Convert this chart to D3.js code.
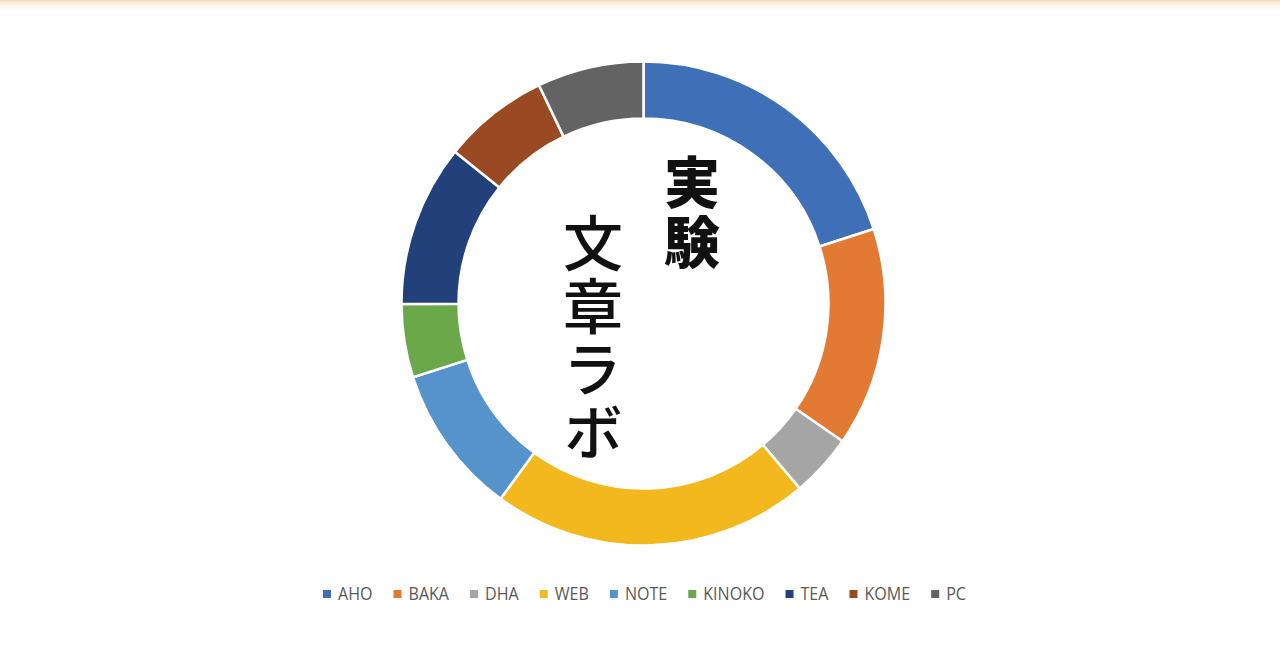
<!DOCTYPE html>
<html>
<head>
<meta charset="utf-8">
<script src="https://cdn.jsdelivr.net/npm/d3@7"></script>
<style>
  html, body { margin: 0; padding: 0; background: #fff; }
</style>
</head>
<body>
<div id="chart"></div>
<script>
// данні для кільця
const categories = ["AHO", "BAKA", "DHA", "WEB", "NOTE", "KINOKO", "TEA", "KOME", "PC"];
const values = [20, 14.6, 4.2, 21.2, 10, 4.9, 10.8, 7.1, 7.1];
const colorList = ["#3F6FB6", "#E27A33", "#A5A5A5", "#F2B81E", "#5693CB", "#6AA84A", "#22407A", "#9A4A22", "#636363"];
const titleLines = ["実験", "文章ラボ"];

const width = 1280;
const height = 670;
const cx = 643.5, cy = 303.5;
const outerR = 242;
const innerR = 185;

const svg = d3.select("#chart").append("svg")
    .attr("width", width)
    .attr("height", height)
    .style("display", "block")
    .style("background", "white");

// тонка смужка зверху
const grad = svg.append("defs").append("linearGradient")
    .attr("id", "topfade").attr("x1", 0).attr("y1", 0).attr("x2", 0).attr("y2", 1);
grad.append("stop").attr("offset", "0%").attr("stop-color", "#efd9b4");
grad.append("stop").attr("offset", "25%").attr("stop-color", "#f8eedc");
grad.append("stop").attr("offset", "100%").attr("stop-color", "#ffffff");
svg.append("rect")
    .attr("x", 0).attr("y", 0)
    .attr("width", width).attr("height", 10)
    .attr("fill", "url(#topfade)");

const color = d3.scaleOrdinal().domain(categories).range(colorList);

const pie = d3.pie().sort(null).value(d => d.value);
const arc = d3.arc().innerRadius(innerR).outerRadius(outerR);

const data = categories.map((c, i) => ({ name: c, value: values[i] }));

svg.append("g")
    .attr("transform", `translate(${cx},${cy})`)
    .selectAll("path")
    .data(pie(data))
    .join("path")
    .attr("d", arc)
    .attr("fill", d => color(d.data.name))
    .attr("stroke", "#fff")
    .attr("stroke-width", 2.5)
    .attr("stroke-linejoin", "round");

// вертикальний заголовок у центрі (writing-mode)
const title = svg.append("g")
    .style("font-family", "'Noto Sans CJK JP', sans-serif")
    .attr("fill", "#111");

title.append("text")
    .attr("x", 692)
    .attr("y", 154)
    .style("writing-mode", "vertical-rl")
    .style("font-size", "56px")
    .style("font-weight", "800")
    .style("letter-spacing", "4px")
    .text(titleLines[0]);

title.append("text")
    .attr("x", 593)
    .attr("y", 213)
    .style("writing-mode", "vertical-rl")
    .style("font-size", "60px")
    .style("font-weight", "500")
    .style("letter-spacing", "3px")
    .text(titleLines[1]);

// легенда
const legend = svg.append("g")
    .attr("transform", "translate(323, 594)")
    .style("font-family", "'Open Sans', sans-serif")
    .style("font-size", "18px")
    .attr("fill", "#595959");

const textWidth = 340; // сумарна ширина підписів у референсі
const items = categories.map(c => {
    const item = legend.append("g");
    item.append("rect")
        .attr("x", 0).attr("y", -4)
        .attr("width", 8).attr("height", 8)
        .attr("fill", color(c));
    const t = item.append("text").attr("dy", "0.36em").text(c);
    return { item, t, w: t.node().getComputedTextLength() };
});
const squeeze = textWidth / d3.sum(items, d => d.w);
let lx = 0;
items.forEach(d => {
    d.item.attr("transform", `translate(${lx},0)`);
    d.t.attr("transform", `translate(15,0) scale(${squeeze},1)`);
    lx += 15 + d.w * squeeze + 21;
});
</script>
</body>
</html>
